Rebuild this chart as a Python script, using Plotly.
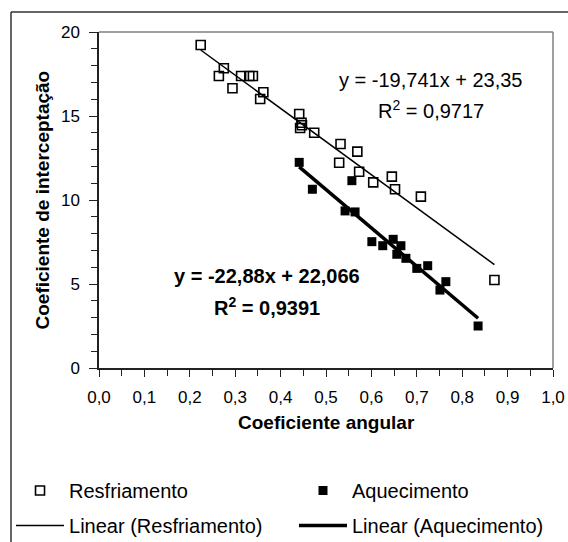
import plotly.graph_objects as go

# ---- data ----
resf_x = [0.224, 0.275, 0.264, 0.294, 0.313, 0.331, 0.339, 0.362, 0.355,
          0.441, 0.446, 0.443, 0.447, 0.474, 0.532, 0.569, 0.529, 0.573,
          0.604, 0.645, 0.652, 0.709, 0.871]
resf_y = [19.23, 17.84, 17.38, 16.65, 17.38, 17.38, 17.38, 16.41, 16.01,
          15.12, 14.60, 14.29, 14.45, 14.00, 13.33, 12.88, 12.22, 11.68,
          11.05, 11.39, 10.64, 10.20, 5.24]

aque_x = [0.441, 0.470, 0.557, 0.542, 0.564, 0.601, 0.625, 0.648, 0.665,
          0.656, 0.676, 0.700, 0.724, 0.764, 0.751, 0.835]
aque_y = [12.24, 10.64, 11.15, 9.35, 9.29, 7.52, 7.28, 7.66, 7.28,
          6.77, 6.53, 5.93, 6.09, 5.14, 4.64, 2.50]

resf_fit = {"slope": -19.741, "intercept": 23.35, "r2": "0,9717"}
aque_fit = {"slope": -22.88, "intercept": 22.066, "r2": "0,9391"}

x_ticks = [0.0, 0.1, 0.2, 0.3, 0.4, 0.5, 0.6, 0.7, 0.8, 0.9, 1.0]
y_ticks = [0, 5, 10, 15, 20]

x_title = "Coeficiente angular"
y_title = "Coeficiente de interceptação"

FONT = "Liberation Sans, Arial, sans-serif"


def fit_line(xs, fit):
    x0, x1 = min(xs), max(xs)
    return [x0, x1], [fit["slope"] * x0 + fit["intercept"], fit["slope"] * x1 + fit["intercept"]]


fig = go.Figure()

fig.add_trace(go.Scatter(
    x=resf_x, y=resf_y, mode="markers", name="Resfriamento",
    marker=dict(symbol="square-open", size=9, color="black", line=dict(width=1.6, color="black")),
    legend="legend", legendgroup="a"))
fig.add_trace(go.Scatter(
    x=aque_x, y=aque_y, mode="markers", name="Aquecimento",
    marker=dict(symbol="square", size=9, color="black"),
    legend="legend2", legendgroup="c"))
lx, ly = fit_line(resf_x, resf_fit)
fig.add_trace(go.Scatter(
    x=lx, y=ly, mode="lines", name="Linear (Resfriamento)",
    line=dict(color="black", width=1.5), legend="legend", legendgroup="b"))
lx, ly = fit_line(aque_x, aque_fit)
fig.add_trace(go.Scatter(
    x=lx, y=ly, mode="lines", name="Linear (Aquecimento)",
    line=dict(color="black", width=3.5), legend="legend2", legendgroup="d"))

# equations
fig.add_annotation(x=0.731, y=17.14, xref="x", yref="y", showarrow=False,
                   text="y = -19,741x + 23,35", font=dict(family=FONT, size=20, color="black"))
fig.add_annotation(x=0.731, y=15.36, xref="x", yref="y", showarrow=False,
                   text="R<sup>2</sup> = " + resf_fit["r2"], font=dict(family=FONT, size=20, color="black"))
fig.add_annotation(x=0.371, y=5.48, xref="x", yref="y", showarrow=False,
                   text="<b>y = -22,88x + 22,066</b>", font=dict(family=FONT, size=20, color="black"))
fig.add_annotation(x=0.371, y=3.69, xref="x", yref="y", showarrow=False,
                   text="<b>R<sup>2</sup> = " + aque_fit["r2"] + "</b>", font=dict(family=FONT, size=20, color="black"))

# axis titles
fig.add_annotation(x=0.5, y=-0.2, xref="paper", yref="paper", showarrow=False,
                   text="<b>" + x_title + "</b>", font=dict(family=FONT, size=19, color="black"))
fig.add_annotation(x=-0.152, y=0.5, xref="paper", yref="paper", showarrow=False, textangle=-90,
                   text="<b>" + y_title + "</b>", font=dict(family=FONT, size=19, color="black"))

# plot border (top / right, gray) and outer frame
shapes = [
    dict(type="line", xref="paper", yref="paper", x0=0, x1=1, y0=1, y1=1,
         line=dict(color="#808080", width=1.5)),
    dict(type="line", xref="paper", yref="paper", x0=1, x1=1, y0=0, y1=1,
         line=dict(color="#808080", width=1.5)),
    dict(type="line", xref="paper", yref="paper", x0=-0.1938, x1=1.05, y0=1.0595, y1=1.0595,
         line=dict(color="#333333", width=1.5)),
    dict(type="line", xref="paper", yref="paper", x0=-0.1938, x1=-0.1938, y0=1.0595, y1=-0.53,
         line=dict(color="#333333", width=1.5)),
]

leg_common = dict(orientation="v", xanchor="left", yanchor="top",
                  xref="container", yref="container",
                  itemwidth=48, tracegroupgap=6,
                  font=dict(family=FONT, size=20, color="black"),
                  bgcolor="rgba(0,0,0,0)", traceorder="grouped")

fig.update_layout(
    width=568, height=542,
    margin=dict(l=99, r=15, t=32, b=174, autoexpand=False),
    paper_bgcolor="white", plot_bgcolor="white",
    separators=",.",
    font=dict(family=FONT, size=17, color="black"),
    showlegend=True,
    legend=dict(x=0.0194, y=0.131, **leg_common),
    legend2=dict(x=0.5176, y=0.131, **leg_common),
    shapes=shapes,
)

fig.update_xaxes(
    range=[0, 1], tickvals=x_ticks, tickformat=".1f",
    showgrid=False, zeroline=False,
    showline=True, linecolor="#222222", linewidth=1.5,
    ticks="outside", ticklen=7, tickwidth=1.2, tickcolor="#222222",
    minor=dict(dtick=0.05, ticks="outside", ticklen=6, tickwidth=1.2, tickcolor="#222222", showgrid=False),
    tickfont=dict(family=FONT, size=17, color="black"),
    ticklabelstandoff=6, automargin=False,
)
fig.update_yaxes(
    range=[0, 20], tickvals=y_ticks,
    showgrid=False, zeroline=False,
    showline=True, linecolor="#222222", linewidth=1.5,
    ticks="outside", ticklen=8, tickwidth=1.2, tickcolor="#222222",
    minor=dict(dtick=1, ticks="outside", ticklen=6, tickwidth=1.2, tickcolor="#222222", showgrid=False),
    tickfont=dict(family=FONT, size=17, color="black"),
    ticklabelstandoff=6, automargin=False,
)

fig.write_html("out.html")
